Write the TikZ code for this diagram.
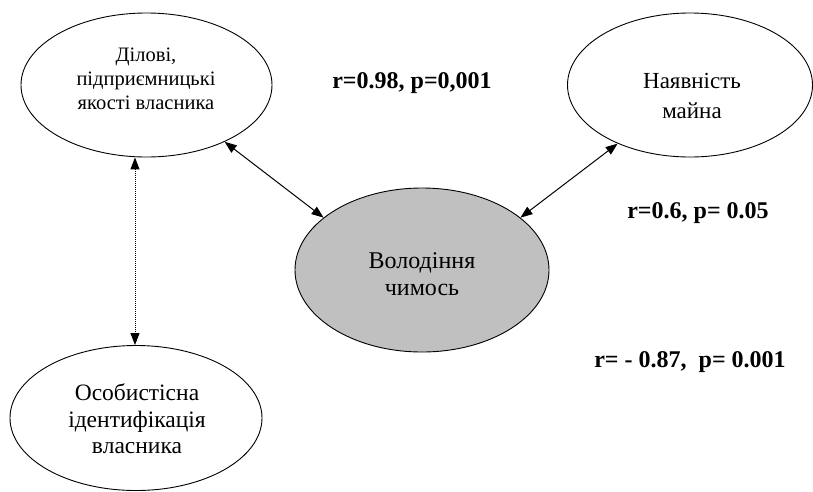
\documentclass[tikz,border=0pt]{standalone}
\usepackage{fontspec}
\setmainfont{Liberation Serif}
\usetikzlibrary{arrows.meta,shapes.geometric}
\definecolor{fillgray}{RGB}{192,192,192}
\tikzset{
  oval/.style={draw=black, line width=0.9pt, ellipse, inner sep=0pt, fill=white},
  txt/.style={align=center, inner sep=0pt},
  lab/.style={inner sep=0pt, anchor=base, font=\bfseries\fontsize{24}{28}\selectfont},
  link/.style={line width=1pt, {Triangle[length=12pt,width=9pt]}-{Triangle[length=12pt,width=9pt]}}
}
\begin{document}
\begin{tikzpicture}[x=1pt,y=-1pt]
\useasboundingbox (0,0) rectangle (813,491);
\node[oval, minimum width=251pt, minimum height=144pt] (e1) at (146.5,85) {};
\node[oval, minimum width=245pt, minimum height=144pt] (e2) at (690,85) {};
\node[oval, fill=fillgray, minimum width=254pt, minimum height=164pt] (c) at (422,270) {};
\node[oval, minimum width=252pt, minimum height=145pt] (e4) at (136,418) {};

\node[txt, font=\fontsize{20.5}{24}\selectfont] (t1) at (146,79) {Ділові,\\підприємницькі\\якості власника};
\node[txt, font=\fontsize{23}{30}\selectfont] (t2) at (692,96) {Наявність\\майна};
\node[txt, font=\fontsize{24}{27}\selectfont] (t3) at (422,274) {Володіння\\чимось};
\node[txt, font=\fontsize{23.5}{26.5}\selectfont] (t4) at (137,419) {Особистісна\\ідентифікація\\власника};

\node[lab] (l1) at (412,88) {r=0.98, p=0,001};
\node[lab] (l2) at (698,218) {r=0.6, p= 0.05};
\node[lab] (l3) at (690,367) {r= - 0.87,\ \ p= 0.001};

\draw[link] (e1.-36) -- (c.152);
\draw[link] (e2.-141) -- (c.28);
\draw[link, densely dotted] ([xshift=-11.5pt]e1.south) -- ([xshift=-1pt]e4.north);
\end{tikzpicture}
\end{document}
